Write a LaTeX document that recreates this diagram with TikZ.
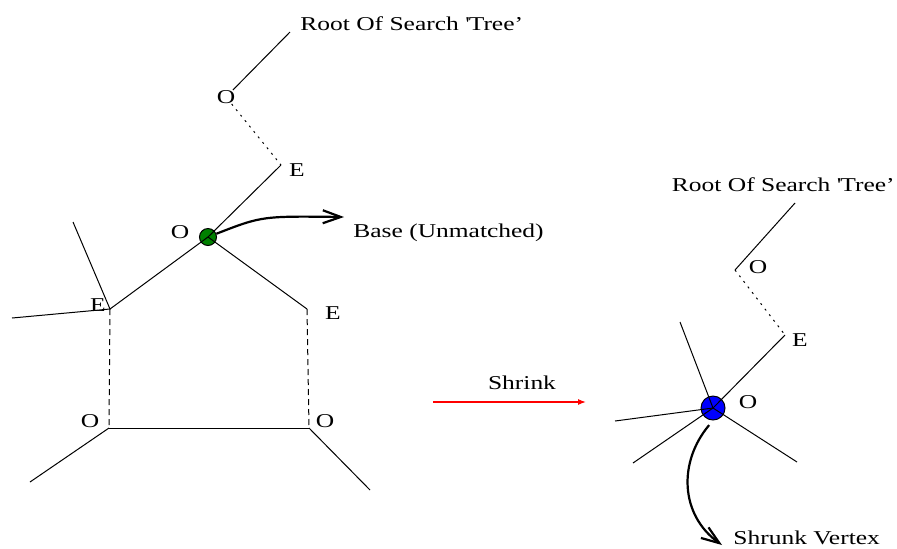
\documentclass[tikz,border=0pt]{standalone}
\usepackage{fontspec}
\setmainfont[FakeStretch=1.3]{Liberation Serif}
\usetikzlibrary{arrows.meta}
\tikzset{
  vlabel/.style={inner sep=0pt, font=\fontsize{9.8}{11}\selectfont},
  edge/.style={line width=0.5pt},
  matched/.style={edge, dash pattern=on 3pt off 2pt},
  treepath/.style={edge, dash pattern=on 1pt off 2.5pt},
  pointer/.style={line width=1.1pt, -{Straight Barb[length=9pt,width=6.5pt]}},
  blossom/.style={circle, draw, line width=0.5pt, inner sep=0pt}
}
\newcommand{\rootlbl}{Root Of Search \textquotesingle Tree'}

\begin{document}
\begin{tikzpicture}[x=0.5pt,y=-0.5pt]
\useasboundingbox (0,0) rectangle (897,548);

% odd cycle before shrinking
\node[vlabel, anchor=west] (lroottxt) at (300,24) {\rootlbl};
\coordinate (lroot) at (290,32);
\node[vlabel] (lo1) at (226,97) {O};
\coordinate (le1) at (281,165);
\node[vlabel] (le1lbl) at (297,170) {E};
\node[blossom, fill=green!50!black, minimum size=8.5pt] (base) at (208,237) {};
\node[vlabel] (baselbl) at (180,232) {O};
\coordinate (eL) at (110,309);
\node[vlabel] (eLlbl) at (98,305) {E};
\coordinate (eR) at (307,309);
\node[vlabel] (eRlbl) at (333,313) {E};
\coordinate (oL) at (109,428);
\node[vlabel] (oLlbl) at (90,421) {O};
\coordinate (oR) at (309,428);
\node[vlabel] (oRlbl) at (325,421) {O};
\coordinate (eLup) at (73,222);
\coordinate (eLleft) at (12,318);
\coordinate (oLout) at (30,482);
\coordinate (oRout) at (370,490);

\draw[edge] (lroot) -- (lo1);
\draw[treepath] (lo1) -- (le1);
\draw[edge] (le1) -- (base.center);
\draw[edge] (base.center) -- (eL);
\draw[edge] (base.center) -- (eR);
\draw[edge] (eLup) -- (eL);
\draw[edge] (eLleft) -- (eL);
\draw[matched] (eL) -- (oL);
\draw[matched] (eR) -- (oR);
\draw[edge] (oL) -- (oR);
\draw[edge] (oL) -- (oLout);
\draw[edge] (oR) -- (oRout);

\node[vlabel, anchor=west] (basetxt) at (353,233) {Base (Unmatched)};
\coordinate (basetip) at (344,217);
\draw[pointer] (base) .. controls (262,216) .. (basetip);

% shrink step
\node[vlabel] (shrinktxt) at (522,383) {Shrink};
\coordinate (shrinkfrom) at (433,402);
\coordinate (shrinkto) at (586,402);
\draw[red, line width=0.6pt, -{Latex[length=4pt,width=3pt]}] (shrinkfrom) -- (shrinkto);

% after shrinking
\node[vlabel, anchor=east] (rroottxt) at (895,185) {\rootlbl};
\coordinate (rroot) at (795,203);
\coordinate (ro1) at (735,270);
\node[vlabel] (ro1lbl) at (758,267) {O};
\coordinate (re1) at (785,335);
\node[vlabel] (re1lbl) at (800,340) {E};
\node[blossom, fill=blue, minimum size=12pt] (shrunk) at (713,408) {};
\node[vlabel] (shrunklbl) at (748,402) {O};
\coordinate (sup) at (680,322);
\coordinate (sleft) at (615,421);
\coordinate (sdownl) at (633,463);
\coordinate (sdownr) at (797,462);

\draw[edge] (rroot) -- (ro1);
\draw[treepath] (ro1) -- (re1);
\draw[edge] (re1) -- (shrunk.center);
\draw[edge] (sup) -- (shrunk.center);
\draw[edge] (sleft) -- (shrunk.center);
\draw[edge] (sdownl) -- (shrunk.center);
\draw[edge] (sdownr) -- (shrunk.center);

\node[vlabel, anchor=west] (shrunktxt) at (733,538) {Shrunk Vertex};
\coordinate (shrunktip) at (722,545);
\draw[pointer, shorten <=3pt] (shrunk.south) .. controls (678,462) and (680,515) .. (shrunktip);
\end{tikzpicture}
\end{document}
